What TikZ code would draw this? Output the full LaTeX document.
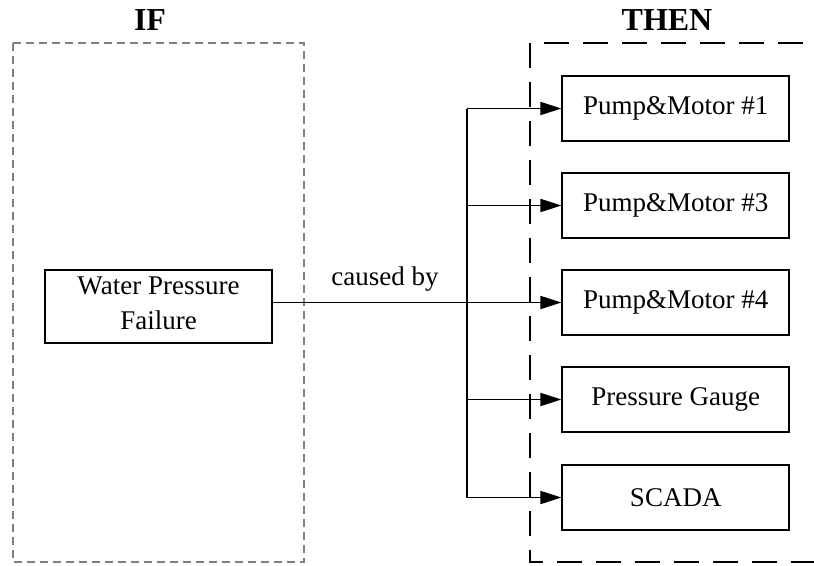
\documentclass[tikz,border=0pt]{standalone}
\usepackage{fontspec}
\setmainfont{Liberation Serif}
\usetikzlibrary{arrows.meta}

\tikzset{
  panelif/.style={draw=black!50, line width=1.3pt, dash pattern=on 8pt off 5pt},
  panelthen/.style={draw=black, line width=1.8pt, dash pattern=on 25pt off 14pt},
  title/.style={font=\fontsize{32}{38}\selectfont\bfseries, inner sep=0pt, anchor=base},
  unitbox/.style={draw, line width=1.7pt, minimum width=227pt, minimum height=65pt,
                  inner sep=0pt, align=center, font=\fontsize{27}{35}\selectfont},
  link/.style={line width=1.8pt},
  feed/.style={link, -{Triangle[length=21pt,width=13pt]}},
  lbl/.style={font=\fontsize{27}{35}\selectfont, inner sep=0pt, anchor=base}
}

\begin{document}
\begin{tikzpicture}[x=1pt,y=-1pt]
  \useasboundingbox (0,0) rectangle (814,565);
  \clip (0,0) rectangle (814,565);

  % panels
  \draw[panelif] (13,43) rectangle (304,562);
  \draw[panelthen] (530,43) rectangle (830,562);
  \node[title] (tif) at (150,30) {IF};
  \node[title] (tthen) at (667,30) {THEN};

  % cause
  \node[unitbox, minimum height=73pt] (wp) at (158.5,306.5) {};
  \node[align=center, inner sep=0pt, font=\fontsize{27}{35}\selectfont]
    (wptext) at ([yshift=3pt]wp.center) {Water Pressure\\Failure};

  % effects
  \node[unitbox] (p1) at (675.75,108.5) {Pump\&Motor \#1};
  \node[unitbox] (p3) at (675.75,205.5) {Pump\&Motor \#3};
  \node[unitbox] (p4) at (675.75,302.5) {Pump\&Motor \#4};
  \node[unitbox] (pg) at (675.75,399.5) {Pressure Gauge};
  \node[unitbox] (sc) at (675.75,497.5) {SCADA};

  % distribution bus
  \coordinate (bustop) at (467,108.5);
  \coordinate (busbot) at (467,497.5);
  \draw[link] (bustop) -- (busbot);

  \draw[feed] (wp.east |- p4.west) -- (p4.west);
  \node[lbl] (cb) at (385,285) {caused by};
  \draw[feed] (bustop) -- (p1.west);
  \draw[feed] (bustop |- p3.west) -- (p3.west);
  \draw[feed] (bustop |- pg.west) -- (pg.west);
  \draw[feed] (busbot) -- (sc.west);
\end{tikzpicture}
\end{document}
